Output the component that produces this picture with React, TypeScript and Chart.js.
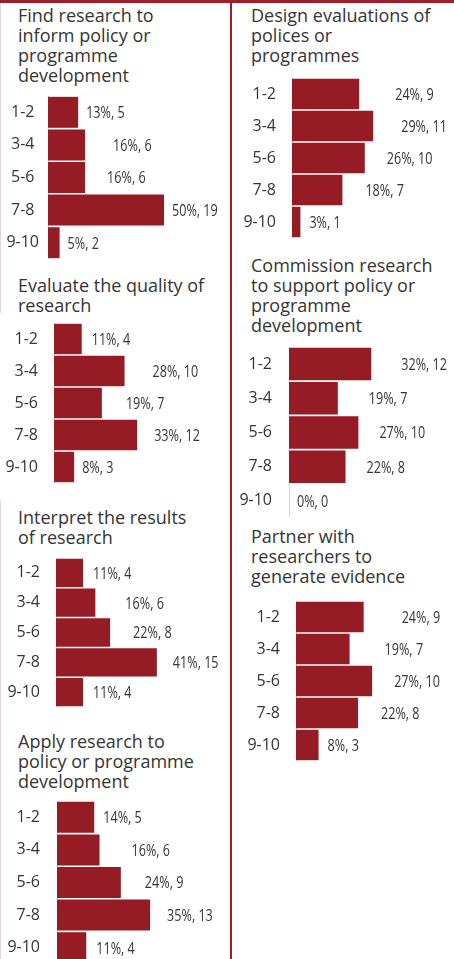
import React, { useEffect, useRef } from "react";
import { Chart, registerables } from "chart.js";

Chart.register(...registerables);

// ---------- DATA ----------
const categories = ["1-2", "3-4", "5-6", "7-8", "9-10"];

const findTitle = ["Find research to", "inform policy or", "programme", "development"];
const findPct = [13, 16, 16, 50, 5];
const findCount = [5, 6, 6, 19, 2];

const designTitle = ["Design evaluations of", "polices or", "programmes"];
const designPct = [24, 29, 26, 18, 3];
const designCount = [9, 11, 10, 7, 1];

const evaluateTitle = ["Evaluate the quality of", "research"];
const evaluatePct = [11, 28, 19, 33, 8];
const evaluateCount = [4, 10, 7, 12, 3];

const commissionTitle = ["Commission research", "to support policy or", "programme", "development"];
const commissionPct = [32, 19, 27, 22, 0];
const commissionCount = [12, 7, 10, 8, 0];

const interpretTitle = ["Interpret the results", "of research"];
const interpretPct = [11, 16, 22, 41, 11];
const interpretCount = [4, 6, 8, 15, 4];

const partnerTitle = ["Partner with", "researchers to", "generate evidence"];
const partnerPct = [24, 19, 27, 22, 8];
const partnerCount = [9, 7, 10, 8, 3];

const applyTitle = ["Apply research to", "policy or programme", "development"];
const applyPct = [14, 16, 24, 35, 11];
const applyCount = [5, 6, 9, 13, 4];

// ---------- STYLE / LAYOUT ----------
const BAR = "#951b24";
const RULE = "#9e1f29";
const TEXT = "#353535";
const FONT = '"Open Sans", sans-serif';

type Layout = {
  left: number; top: number; width: number; height: number;
  axisWidth: number; pxPerPct: number; tickPadding: number;
  tickAlign: "near" | "center" | "far"; labelOffsets: number[]; titleTop: number;
};

type Panel = { title: string[]; pct: number[]; count: number[]; layout: Layout };

const panels: Panel[] = [
  { title: findTitle, pct: findPct, count: findCount,
    layout: { left: 0, top: 96, width: 230, height: 163, axisWidth: 48, pxPerPct: 2.32, tickPadding: 9, tickAlign: "center", labelOffsets: [8, 28, 22, 8, 8], titleTop: 5 } },
  { title: designTitle, pct: designPct, count: designCount,
    layout: { left: 233, top: 78, width: 221, height: 160, axisWidth: 59, pxPerPct: 2.8, tickPadding: 16, tickAlign: "near", labelOffsets: [36, 28, 22, 23, 9], titleTop: 5 } },
  { title: evaluateTitle, pct: evaluatePct, count: evaluateCount,
    layout: { left: 0, top: 323, width: 230, height: 160, axisWidth: 54, pxPerPct: 2.52, tickPadding: 16, tickAlign: "near", labelOffsets: [10, 28, 24, 17, 8], titleTop: 275 } },
  { title: commissionTitle, pct: commissionPct, count: commissionCount,
    layout: { left: 233, top: 347, width: 221, height: 171, axisWidth: 56, pxPerPct: 2.57, tickPadding: 17, tickAlign: "near", labelOffsets: [30, 31, 21, 21, 8], titleTop: 255 } },
  { title: interpretTitle, pct: interpretPct, count: interpretCount,
    layout: { left: 0, top: 558, width: 230, height: 149, axisWidth: 56, pxPerPct: 2.46, tickPadding: 16, tickAlign: "near", labelOffsets: [10, 30, 23, 16, 10], titleTop: 507 } },
  { title: partnerTitle, pct: partnerPct, count: partnerCount,
    layout: { left: 233, top: 601, width: 221, height: 160, axisWidth: 63, pxPerPct: 2.82, tickPadding: 16, tickAlign: "near", labelOffsets: [38, 35, 22, 23, 9], titleTop: 526 } },
  { title: applyTitle, pct: applyPct, count: applyCount,
    layout: { left: 0, top: 801, width: 230, height: 163, axisWidth: 57, pxPerPct: 2.66, tickPadding: 17, tickAlign: "near", labelOffsets: [9, 32, 24, 17, 10], titleTop: 731 } },
];

function BarPanel({ panel }: { panel: Panel }) {
  const ref = useRef<HTMLCanvasElement>(null);
  const L = panel.layout;

  useEffect(() => {
    const canvas = ref.current;
    if (!canvas) return;
    const xMax = (L.width - L.axisWidth) / L.pxPerPct;

    const valueLabels = {
      id: "valueLabels",
      afterDatasetsDraw(chart: any) {
        const ctx = chart.ctx;
        const meta = chart.getDatasetMeta(0);
        meta.data.forEach((bar: any, i: number) => {
          const text = `${panel.pct[i]}%, ${panel.count[i]}`;
          ctx.save();
          ctx.font = `17px ${FONT}`;
          ctx.fillStyle = TEXT;
          ctx.textAlign = "left";
          ctx.textBaseline = "middle";
          ctx.translate(bar.x + L.labelOffsets[i], bar.y + 1);
          ctx.scale(0.74, 1);
          ctx.fillText(text, 0, 0);
          ctx.restore();
        });
      },
    };

    const chart = new Chart(canvas, {
      type: "bar",
      data: {
        labels: categories,
        datasets: [
          {
            data: panel.pct,
            backgroundColor: BAR,
            borderWidth: 0,
            barPercentage: 0.95,
            categoryPercentage: 1,
          },
        ],
      },
      options: {
        indexAxis: "y",
        animation: false,
        responsive: false,
        maintainAspectRatio: false,
        layout: { padding: 0 },
        plugins: {
          legend: { display: false },
          tooltip: { enabled: false },
          title: { display: false },
        },
        scales: {
          x: { display: false, min: 0, max: xMax },
          y: {
            position: "left",
            grid: { display: false, drawTicks: false },
            border: { display: true, color: "#d6d6d6", width: 1 },
            ticks: {
              color: TEXT,
              font: { family: FONT, size: 16 },
              padding: L.tickPadding,
              crossAlign: L.tickAlign,
            },
            afterFit: (s: any) => {
              s.width = L.axisWidth;
              s.paddingTop = 0;
              s.paddingBottom = 0;
            },
          },
        },
      } as any,
      plugins: [valueLabels],
    });
    return () => chart.destroy();
  }, []);

  return (
    <canvas
      ref={ref}
      width={L.width}
      height={L.height}
      style={{ position: "absolute", left: L.left, top: L.top, width: L.width, height: L.height }}
    />
  );
}

function Title({ panel }: { panel: Panel }) {
  const L = panel.layout;
  return (
    <div
      style={{
        position: "absolute",
        left: L.left === 0 ? 18 : 251,
        top: L.titleTop,
        fontFamily: FONT,
        fontSize: 18,
        lineHeight: "20px",
        color: TEXT,
        whiteSpace: "nowrap",
      }}
    >
      {panel.title.map((t, i) => (
        <div key={i}>{t}</div>
      ))}
    </div>
  );
}

export default function App() {
  return (
    <div
      style={{
        position: "absolute",
        left: 0,
        top: 0,
        width: 454,
        height: 959,
        overflow: "hidden",
        background: "#ffffff",
      }}
    >
      <div style={{ position: "absolute", left: 0, top: 0, width: 1, height: 313, background: "#ecd3d6" }} />
      <div style={{ position: "absolute", left: 0, top: 500, width: 1, height: 459, background: "#ecd3d6" }} />
      <div style={{ position: "absolute", left: 0, top: 0, width: 454, height: 3, background: RULE }} />
      <div style={{ position: "absolute", left: 230, top: 0, width: 2, height: 959, background: RULE }} />
      {panels.map((p, i) => (
        <Title key={"t" + i} panel={p} />
      ))}
      {panels.map((p, i) => (
        <BarPanel key={"c" + i} panel={p} />
      ))}
    </div>
  );
}
